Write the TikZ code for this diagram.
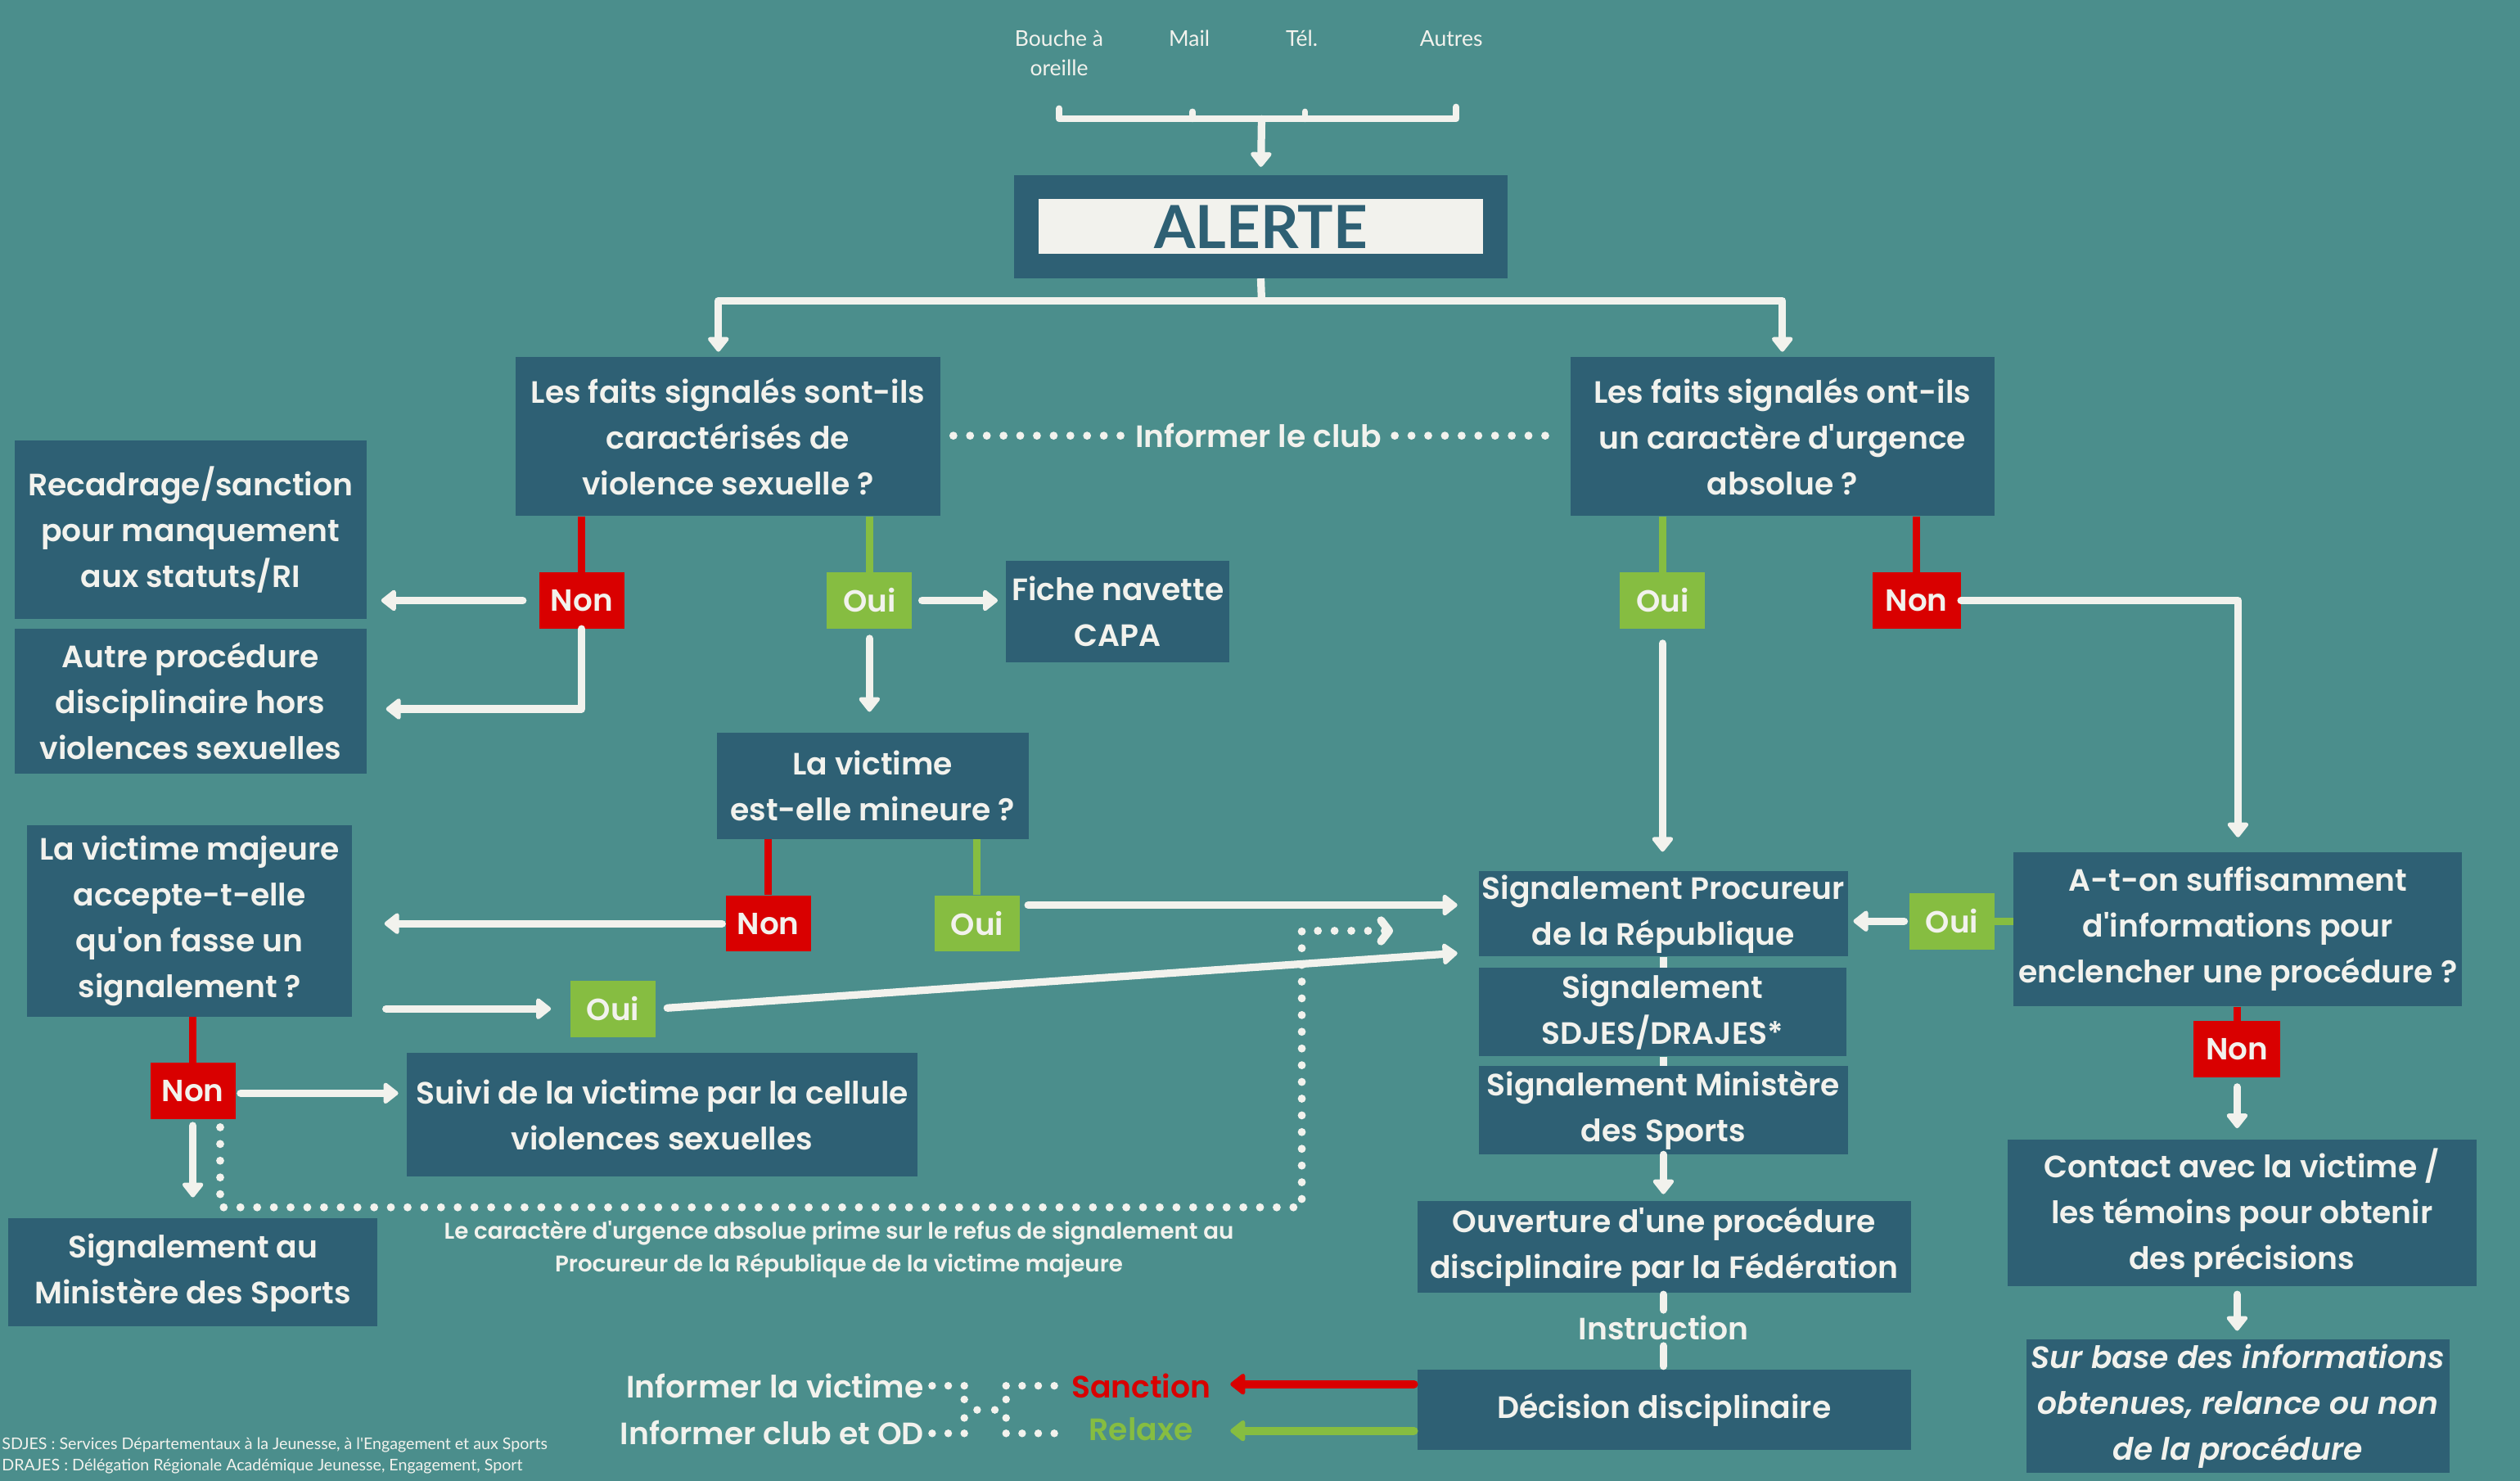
\documentclass[tikz,border=0pt]{standalone}
\usepackage{fontspec}
\setmainfont{Poppins}[Ligatures=TeXOff, BoldFont={Poppins SemiBold}, BoldItalicFont={Poppins SemiBold Italic}]
\newfontfamily\latofont{Lato}
\usetikzlibrary{arrows.meta}
\definecolor{bgc}{RGB}{75,142,140}
\definecolor{boxc}{RGB}{46,96,116}
\definecolor{rouge}{RGB}{217,0,0}
\definecolor{vert}{RGB}{134,189,65}
\definecolor{blanc}{RGB}{242,242,237}
\newcommand\boxfont{\bfseries\fontsize{19.2}{28.5}\selectfont}
\begin{document}
\begin{tikzpicture}[x=1pt,y=-1pt,
  box/.style={fill=boxc, text=blanc, inner sep=0pt, align=center, font=\boxfont},
  lbl/.style={text=blanc, inner sep=0pt, font=\boxfont},
  yn/.style={text=blanc, inner sep=0pt, minimum height=35pt, minimum width=53pt, font=\bfseries\fontsize{19}{22}\selectfont},
  non/.style={yn, fill=rouge},
  oui/.style={yn, fill=vert},
  arr/.style={draw=blanc, line width=4.7pt, line cap=round, -{Triangle[width=15pt,length=10pt,round]}},
  seg/.style={draw=blanc, line width=4.7pt},
  rline/.style={draw=rouge, line width=4.5pt},
  gline/.style={draw=vert, line width=4.5pt},
  rarr/.style={draw=rouge, line width=5pt, line cap=round, -{Triangle[width=15pt,length=10pt,round]}},
  garr/.style={draw=vert, line width=5pt, line cap=round, -{Triangle[width=15pt,length=10pt,round]}},
  dots/.style={draw=blanc, line width=5pt, line cap=round, dash pattern=on 0pt off 10.4pt},
  src/.style={text=blanc, inner sep=0pt, align=center, font=\latofont\fontsize{13.5}{18}\selectfont}
]
\useasboundingbox (0,0) rectangle (1568,921.2);
\fill[bgc] (0,0) rectangle (1568,921.2);

% sources
\node[src] (s1) at (659,33) {Bouche à\\oreille};
\node[src] (s2) at (740,24) {Mail};
\node[src] (s3) at (810,24) {Tél.};
\node[src] (s4) at (903,24) {Autres};
\coordinate (bl) at (659,74);
\coordinate (br) at (906,74);
\coordinate (bm) at (785,74);
\draw[blanc, line width=4pt, line cap=round, line join=round] (659,67.5) -- (bl) -- (br) -- (906,66.5);
\draw[blanc, line width=4pt, line cap=round] (742,69.5) -- (742,74);
\draw[blanc, line width=4pt, line cap=round] (812,69.5) -- (812,74);

% ALERTE
\node[fill=boxc, minimum width=307pt, minimum height=64pt, inner sep=0pt] (alerte) at (784.5,141) {};
\node[fill=blanc, minimum width=277pt, minimum height=34pt, inner sep=0pt, text=boxc, font=\latofont\bfseries\fontsize{37}{37}\selectfont] (alertetxt) at (784.5,141) {ALERTE};
\draw[arr, shorten >=5pt] (bm) -- (alerte.north);

% questions
\node[box, minimum width=264pt, minimum height=99pt] (q1) at (453,271.5) {Les faits signalés sont-ils\\caractérisés de\\violence sexuelle ?};
\node[box, minimum width=264pt, minimum height=99pt] (q2) at (1109,271.5) {Les faits signalés ont-ils\\un caractère d'urgence\\absolue ?};
\coordinate (split) at (785,187);
\draw[seg] (alerte.south) -- (split);
\draw[arr, line join=round, shorten >=3pt] (split) -| ([xshift=-6pt]q1.north);
\draw[arr, line join=round, shorten >=3pt] (split) -| (q2.north);

\node[lbl] (club) at (783,271) {Informer le club};
\draw[dots] ([xshift=8pt]q1.east |- club) -- ([xshift=-8pt]club.west);
\draw[dots] ([xshift=8pt]club.east) -- ([xshift=-5pt]q2.west |- club);

% left branch
\node[non] (q1non) at (362,373.5) {Non};
\node[oui] (q1oui) at (541,373.5) {Oui};
\draw[rline] (q1.south -| q1non) -- (q1non.north);
\draw[gline] (q1.south -| q1oui) -- (q1oui.north);

\node[box, minimum width=219pt, minimum height=111pt] (recad) at (118.5,329.5) {Recadrage/sanction\\pour manquement\\aux statuts/RI};
\node[box, minimum width=219pt, minimum height=90pt] (autre) at (118.5,436) {Autre procédure\\disciplinaire hors\\violences sexuelles};
\node[box, minimum width=139pt, minimum height=63pt] (fiche) at (695.5,380.5) {Fiche navette\\CAPA};
\node[box, minimum width=194pt, minimum height=66pt] (vict) at (543,489) {La victime\\est-elle mineure ?};

\draw[arr, shorten <=10pt, shorten >=9pt] (q1non.west) -- (recad.east |- q1non.west);
\draw[arr, line join=round, shorten >=12pt] (q1non.south) |- ([yshift=-5pt]autre.east);
\draw[arr, shorten <=6pt, shorten >=5pt] (q1oui.east) -- (fiche.west |- q1oui.east);
\draw[arr, shorten <=6pt, shorten >=13pt] (q1oui.south) -- (vict.north -| q1oui);

\node[non] (vnon) at (478,574.5) {Non};
\node[oui] (voui) at (608,574.5) {Oui};
\draw[rline] (vict.south -| vnon) -- (vnon.north);
\draw[gline] (vict.south -| voui) -- (voui.north);

\node[box, minimum width=202pt, minimum height=119pt] (major) at (118,573) {La victime majeure\\accepte-t-elle\\qu'on fasse un\\signalement ?};
\node[oui] (moui) at (381.5,627.5) {Oui};
\node[non] (mnon) at (120,678.5) {Non};
\draw[rline] (major.south -| mnon) -- (mnon.north);
\node[box, minimum width=318pt, minimum height=77pt] (suivi) at (412,693.5) {Suivi de la victime par la cellule\\violences sexuelles};
\node[box, minimum width=230pt, minimum height=67pt] (sigmin) at (120,791.5) {Signalement au\\Ministère des Sports};

% center column
\node[box, minimum width=230pt, minimum height=53pt] (proc) at (1035,568.5) {Signalement Procureur\\de la République};
\node[box, minimum width=229pt, minimum height=55pt] (sdjes) at (1034.5,629.5) {Signalement\\SDJES/DRAJES*};
\node[box, minimum width=230pt, minimum height=55pt] (minist) at (1035,690.5) {Signalement Ministère\\des Sports};
\node[box, minimum width=307pt, minimum height=57pt] (ouvert) at (1035.5,775.5) {Ouverture d'une procédure\\disciplinaire par la Fédération};
\node[lbl, minimum height=22pt] (instr) at (1035,826) {Instruction};
\node[box, minimum width=307pt, minimum height=50pt] (decis) at (1035.5,877) {Décision disciplinaire};

\draw[arr, shorten <=2pt, shorten >=20pt] (vnon.west) -- (major.east |- vnon.west);
\draw[arr, shorten <=5pt, shorten >=13pt] ([yshift=11.5pt]voui.east) -- ([yshift=5.5pt]proc.west);
\draw[arr, shorten <=21pt, shorten >=12pt] (major.east |- moui.west) -- (moui.west);
\draw[arr, shorten <=7pt, shorten >=13pt] (moui.east) -- ([yshift=-23.5pt]proc.west);
\draw[arr, shorten <=3pt, shorten >=5pt] ([yshift=-1.5pt]mnon.east) -- ([yshift=-1.5pt]suivi.west |- mnon.east);
\draw[arr, shorten <=4pt, shorten >=13pt] (mnon.south) -- (sigmin.north -| mnon);
\coordinate (dc) at (810,751);
\draw[dots, -{Straight Barb[length=5pt,width=13pt,round]}, shorten >=1pt] ([xshift=17pt,yshift=-5pt]mnon.south) |- (dc) |- ([xshift=-52pt,yshift=-10.5pt]proc.west);

\node[text=blanc, inner sep=0pt, align=center, font=\bfseries\fontsize{14.1}{20}\selectfont] (note) at (522,777) {Le caractère d'urgence absolue prime sur le refus de signalement au\\Procureur de la République de la victime majeure};

% right branch
\node[oui] (q2oui) at (1034.5,373.5) {Oui};
\node[non, minimum width=55pt] (q2non) at (1192.5,373.5) {Non};
\draw[gline] (q2.south -| q2oui) -- (q2oui.north);
\draw[rline] (q2.south -| q2non) -- (q2non.north);
\draw[arr, shorten <=9pt, shorten >=12pt] (q2oui.south) -- (proc.north -| q2oui);

\node[box, minimum width=279pt, minimum height=96pt] (info) at (1392.5,578) {A-t-on suffisamment\\d'informations pour\\enclencher une procédure ?};
\draw[arr, line join=round, shorten >=9pt] (q2non.east) -| (info.north);
\node[oui] (ioui) at (1214.5,573) {Oui};
\draw[gline] (ioui.east) -- (info.west |- ioui.east);
\draw[arr, shorten <=3pt, shorten >=3pt] (ioui.west) -- (proc.east |- ioui.west);
\node[non, minimum width=54pt] (inon) at (1392,652.5) {Non};
\draw[rline] (info.south -| inon) -- (inon.north);
\node[box, minimum width=292pt, minimum height=91pt] (contact) at (1395,754.5) {Contact avec la victime /\\les témoins pour obtenir\\des précisions};
\node[box, minimum width=263pt, minimum height=83pt, font=\boxfont\itshape] (surbase) at (1392.5,874.5) {Sur base des informations\\obtenues, relance ou non\\de la procédure};
\draw[arr, shorten <=6pt, shorten >=7pt] (inon.south) -- (contact.north -| inon);
\draw[arr, shorten <=5pt, shorten >=5pt] (contact.south -| inon) -- (surbase.north -| inon);

% center connectors
\draw[seg] (proc.south) -- (sdjes.north -| proc.south);
\draw[seg] (sdjes.south -| minist.north) -- (minist.north);
\draw[arr, shorten >=4pt] (minist.south) -- (ouvert.north -| minist.south);
\draw[seg, line cap=round] ([yshift=-1pt]ouvert.south -| instr) -- (instr.north);
\draw[seg, line cap=round] (instr.south) -- ([yshift=2pt]decis.north -| instr);

% decision outcomes
\node[text=rouge, inner sep=0pt, font=\boxfont] (sanct) at (710,862) {Sanction};
\node[text=vert, inner sep=0pt, font=\boxfont] (relax) at (710,889) {Relaxe};
\draw[rarr, shorten <=2pt] ([yshift=16pt]decis.west) -- ([xshift=12pt]sanct.east |- 0,861);
\draw[garr, shorten <=2pt] ([yshift=-13pt]decis.west) -- ([xshift=12pt]sanct.east |- 0,890);

\node[lbl, anchor=east] (infv) at (575,862) {Informer la victime};
\node[lbl, anchor=east] (infc) at (575,891) {Informer club et OD};
\foreach \p in {(580,862),(590,862),(600,862),(626,862),(636,862),(646,862),(656,862),
                (580,891.6),(590,891.6),(600,891.6),(626,891.6),(636,891.6),(646,891.6),(656,891.6),
                (600,870.5),(626,870.5),(608,877),(619,877),(600,882),(626,882)}
  \fill[blanc] \p circle (2.4pt);

% footnote
\node[text=blanc, inner sep=0pt, anchor=west, align=left, font=\latofont\fontsize{10}{13}\selectfont] (foot) at (1,905.5) {SDJES : Services Départementaux à la Jeunesse, à l'Engagement et aux Sports\\DRAJES : Délégation Régionale Académique Jeunesse, Engagement, Sport};
\end{tikzpicture}
\end{document}
